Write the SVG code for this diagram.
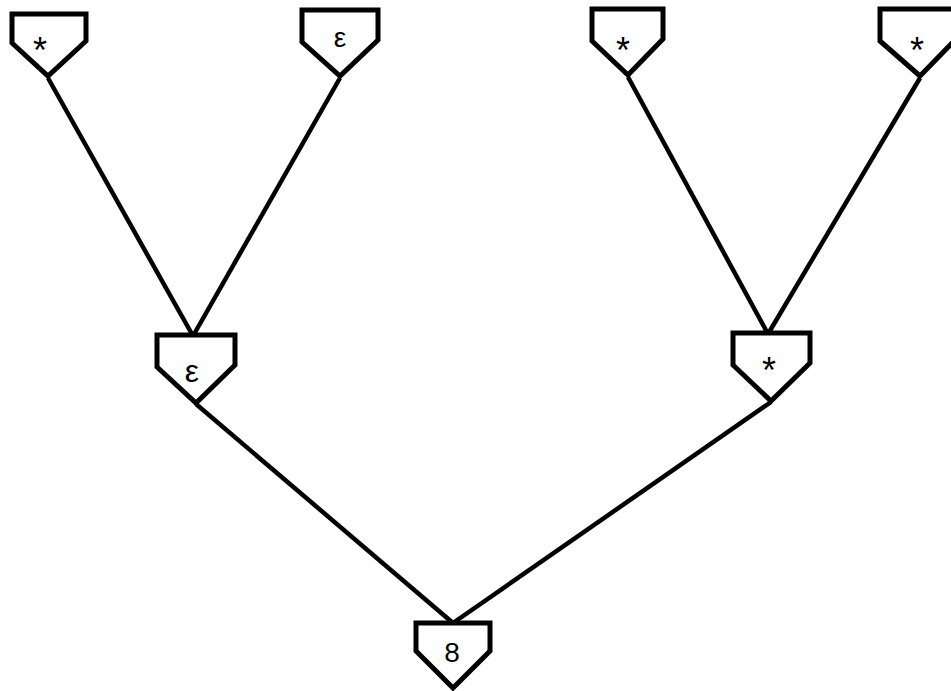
<svg xmlns="http://www.w3.org/2000/svg" width="951" height="691" viewBox="0 0 951 691">
<style>
.n{fill:#fff;stroke:#000;stroke-width:5;stroke-linejoin:miter}
.e{stroke:#000;stroke-width:4.5;fill:none}
.t{font-family:"Liberation Sans",Arial,sans-serif;font-size:28px;fill:#000;text-anchor:middle}
.s{font-size:36px}
</style>
<rect width="951" height="691" fill="#fff"/>
<g id="edges">
<line class="e" x1="48" y1="78" x2="193" y2="336"/>
<line class="e" x1="340" y1="78" x2="193" y2="336"/>
<line class="e" x1="628" y1="77" x2="768" y2="334"/>
<line class="e" x1="920" y1="78" x2="768" y2="334"/>
<line class="e" x1="196" y1="404" x2="453" y2="623"/>
<line class="e" x1="771" y1="402" x2="453" y2="623"/>
</g>
<g id="n1"><polygon class="n" points="12,14 86,14 86,41 48,76 12,43"/><text class="t s" x="40" y="63">*</text></g>
<g id="n2"><polygon class="n" points="302,10 378,10 378,40 340,76 302,42"/><text class="t" x="340" y="47">ε</text></g>
<g id="n3"><polygon class="n" points="592,9 663,9 663,39 628,75 592,41"/><text class="t s" x="623" y="63">*</text></g>
<g id="n4"><polygon class="n" points="880,9 956,9 956,39 920,76 880,41"/><text class="t s" x="917" y="63">*</text></g>
<g id="n5"><polygon class="n" points="157,335 235,335 235,365 196,403 157,367"/><text class="t" x="192" y="382" style="font-size:32px">ε</text></g>
<g id="n6"><polygon class="n" points="733,333 810,333 810,363 771,401 733,365"/><text class="t s" x="769" y="383">*</text></g>
<g id="n7"><polygon class="n" points="416,623 490,623 490,651 453,688 416,651"/><text class="t" x="452" y="662">8</text></g>
</svg>
